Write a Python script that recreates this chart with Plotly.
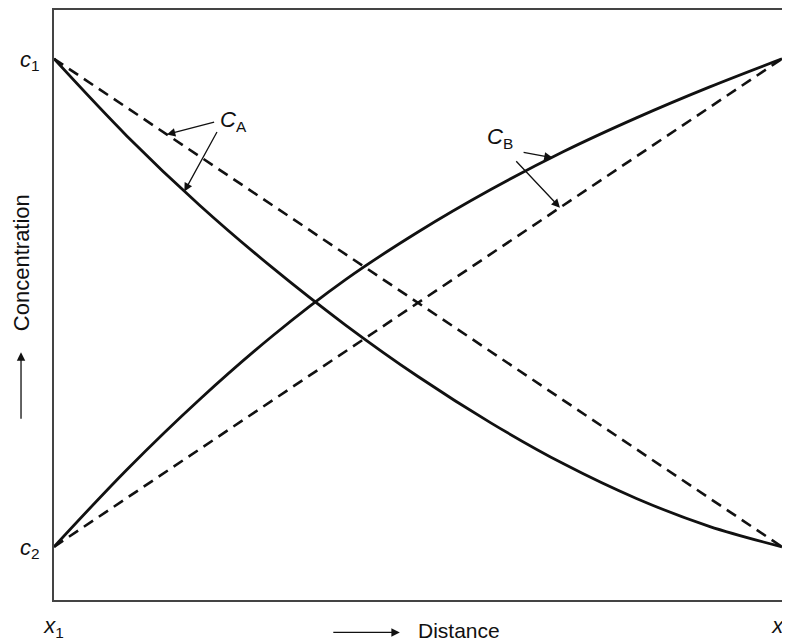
import plotly.graph_objects as go

# distance (x1 -> x2 scaled 0..1) and concentration (c2 -> c1 scaled 0..1)
distance = [0.0, 0.1, 0.2, 0.3, 0.4, 0.5, 0.6, 0.7, 0.8, 0.9, 1.0]
ca_curve = [1.0, 0.842, 0.700, 0.572, 0.455, 0.349, 0.254, 0.170, 0.099, 0.042, 0.0]
cb_curve = [0.0, 0.158, 0.302, 0.432, 0.547, 0.645, 0.732, 0.810, 0.879, 0.942, 1.0]

line_ends = [0.0, 1.0]
ca_linear = [1.0, 0.0]
cb_linear = [0.0, 1.0]

x_ticks = [0.0, 1.0]
x_tick_text = ["<i>x</i><sub>1</sub>", "<i>x</i><sub>2</sub>"]
y_ticks = [0.0, 1.0]
y_tick_text = ["<i>c</i><sub>2</sub>", "<i>c</i><sub>1</sub>"]

INK = "#111111"
FONT = "Liberation Sans, Arial, sans-serif"

fig = go.Figure()
fig.add_trace(go.Scatter(x=line_ends, y=ca_linear, mode="lines",
                         line=dict(color=INK, width=2.6, dash="11px,7px")))
fig.add_trace(go.Scatter(x=line_ends, y=cb_linear, mode="lines",
                         line=dict(color=INK, width=2.6, dash="11px,7px")))
fig.add_trace(go.Scatter(x=distance, y=ca_curve, mode="lines",
                         line=dict(color=INK, width=2.8, shape="spline")))
fig.add_trace(go.Scatter(x=distance, y=cb_curve, mode="lines",
                         line=dict(color=INK, width=2.8, shape="spline")))


def pointer(tail, head):
    return dict(x=head[0], y=head[1], ax=tail[0], ay=tail[1],
                xref="x", yref="y", axref="x", ayref="y", text="",
                showarrow=True, arrowhead=2, arrowsize=1.3, arrowwidth=1.3,
                arrowcolor=INK)


def label(text, x, y, ref, angle=0, size=22):
    return dict(x=x, y=y, xref=ref[0], yref=ref[1], text=text, textangle=angle,
                xanchor="center", yanchor="middle", showarrow=False,
                font=dict(size=size, color=INK, family=FONT))


annotations = [
    label("<i>C</i><sub>A</sub>", 0.247, 0.873, ("x", "y")),
    pointer((0.222, 0.871), (0.155, 0.845)),
    pointer((0.225, 0.853), (0.179, 0.728)),
    label("<i>C</i><sub>B</sub>", 0.612, 0.838, ("x", "y")),
    pointer((0.643, 0.809), (0.685, 0.797)),
    pointer((0.633, 0.793), (0.695, 0.695)),
    label("Concentration", -0.0453, 0.571, ("paper", "paper"), angle=-90),
    dict(x=-0.0453, y=0.420, xref="paper", yref="paper", text="",
         showarrow=True, ax=0, ay=68, arrowhead=2, arrowsize=1.3,
         arrowwidth=1.3, arrowcolor=INK),
    label("Distance", 0.556, -0.052, ("paper", "paper"), size=21),
    dict(x=0.475, y=-0.055, xref="paper", yref="paper", text="",
         showarrow=True, ax=-68, ay=0, arrowhead=2, arrowsize=1.3,
         arrowwidth=1.3, arrowcolor=INK),
]

# page body adds an 8px offset, so margins are trimmed to keep the frame in place
fig.update_layout(
    width=790, height=642,
    margin=dict(l=46, r=16, t=2, b=50),
    paper_bgcolor="white", plot_bgcolor="white",
    showlegend=False,
    font=dict(family=FONT, color=INK, size=22),
    annotations=annotations,
)
fig.update_xaxes(range=[0, 1], tickvals=x_ticks, ticktext=x_tick_text,
                 showgrid=False, zeroline=False, showline=True, mirror=True,
                 linecolor="#444444", linewidth=2, ticks="", ticklabelstandoff=5,
                 automargin=False)
fig.update_yaxes(range=[-0.109, 1.100], tickvals=y_ticks, ticktext=y_tick_text,
                 showgrid=False, zeroline=False, showline=True, mirror=True,
                 linecolor="#444444", linewidth=2, ticks="", ticklabelstandoff=8,
                 automargin=False)

fig.write_html("out.html")
